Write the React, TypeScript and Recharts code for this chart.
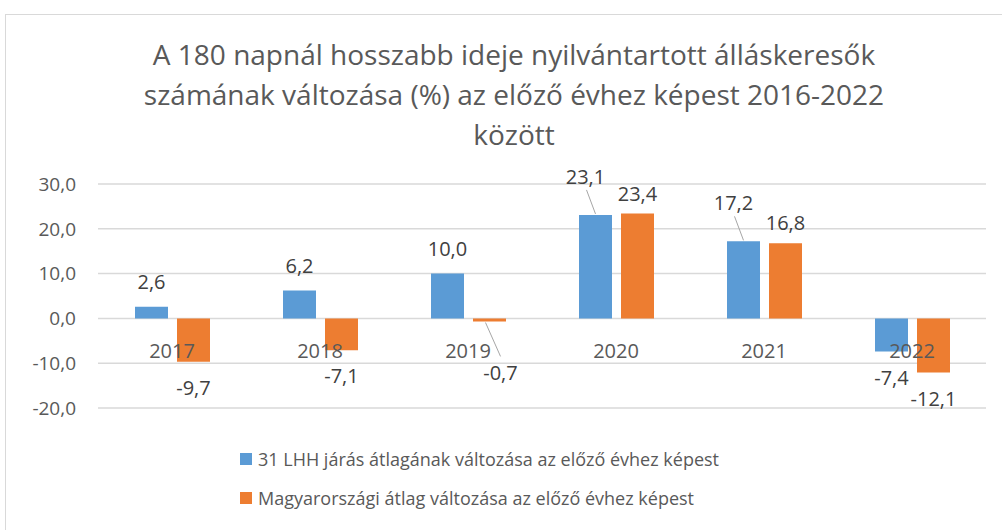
import React from "react";
import { BarChart, Bar, XAxis, YAxis, CartesianGrid, LabelList } from "recharts";

const years = ["2017", "2018", "2019", "2020", "2021", "2022"];
const lhhChange = [2.6, 6.2, 10.0, 23.1, 17.2, -7.4];
const nationalChange = [-9.7, -7.1, -0.7, 23.4, 16.8, -12.1];
const yTicks = [-20, -10, 0, 10, 20, 30];

const seriesNames = [
  "31 LHH járás átlagának változása az előző évhez képest",
  "Magyarországi átlag változása az előző évhez képest",
];
const titleLines = [
  "A 180 napnál hosszabb ideje nyilvántartott álláskeresők",
  "számának változása (%) az előző évhez képest 2016-2022",
  "között",
];

const data = years.map((y, i) => ({ year: y, lhh: lhhChange[i], hu: nationalChange[i] }));

const BLUE = "#5B9BD5";
const ORANGE = "#ED7D31";
const TEXT = "#595959";
const LABEL = "#404040";
const LEADER = "#a6a6a6";
const FONT = "'Open Sans', 'Noto Sans', sans-serif";

const W = 1002;
const H = 530;
const X_AXIS_H = 30;
const M = { top: 184, right: 16, bottom: 122 - X_AXIS_H, left: 8 };
const Y_MIN = -20;
const Y_MAX = 30;
const plotH = H - M.top - M.bottom - X_AXIS_H;
const zeroY = M.top + (plotH * Y_MAX) / (Y_MAX - Y_MIN);

const fmt = (v: number) => v.toFixed(1).replace(".", ",");

// value labels: above positive bars, below negative ones.
// when both bars of a year are positive the first series' label is lifted
// (with a leader line) so the two don't collide; short negative bars get
// pushed clear of the year label the same way.
const makeLabel = (first: boolean, other: number[]) => (props: any) => {
  const { x, y, width, height, value, index } = props;
  const v = Number(value);
  const cx = x + width / 2;
  const top = Math.min(y, y + height);
  const bottom = Math.max(y, y + height);
  if (v >= 0) {
    const lift = first && other[index] > 0;
    const ty = lift ? top - 31 : top - (first ? 18 : 13);
    const lx = lift ? cx - 10 : cx;
    return (
      <g>
        {lift && <line x1={cx} y1={top - 1} x2={lx + 1} y2={ty + 6} stroke={LEADER} strokeWidth={1} />}
        <text x={lx} y={ty} textAnchor="middle" fill={LABEL} fontSize={20} fontFamily={FONT}>
          {fmt(v)}
        </text>
      </g>
    );
  }
  const natural = bottom + 33;
  const ty = Math.max(natural, zeroY + 62);
  const pushed = ty > natural + 5;
  const lx = pushed ? cx + 11 : cx;
  return (
    <g>
      {pushed && <line x1={cx - 4} y1={bottom + 1} x2={lx} y2={ty - 24} stroke={LEADER} strokeWidth={1} />}
      <text x={lx} y={ty} textAnchor="middle" fill={LABEL} fontSize={20} fontFamily={FONT}>
        {fmt(v)}
      </text>
    </g>
  );
};

const LhhLabel = makeLabel(true, nationalChange);
const HuLabel = makeLabel(false, lhhChange);

// category labels sit just under the zero line, like Excel does
const YearTick = (props: any) => {
  const { x, payload } = props;
  return (
    <text x={x} y={zeroY + 40} textAnchor="middle" fill={TEXT} fontSize={20} fontFamily={FONT}>
      {payload.value}
    </text>
  );
};

const LegendBox = () => (
  <div style={{ position: "absolute", left: 240, top: 439, fontFamily: FONT, fontSize: 18, color: TEXT }}>
    {seriesNames.map((n, i) => (
      <div key={n} style={{ display: "flex", alignItems: "center", height: 39 }}>
        <span
          style={{
            display: "inline-block",
            width: 12,
            height: 12,
            background: i === 0 ? BLUE : ORANGE,
            marginRight: 6,
          }}
        />
        {n}
      </div>
    ))}
  </div>
);

export default function App() {
  return (
    <div style={{ position: "absolute", left: 0, top: 0, width: W, height: H, overflow: "hidden", background: "#fff" }}>
      <div
        style={{
          position: "absolute",
          left: 5,
          top: 14,
          width: W + 20,
          height: H,
          border: "1px solid #d9d9d9",
        }}
      />
      <div
        style={{
          position: "absolute",
          left: 0,
          top: 34,
          width: 1028,
          textAlign: "center",
          fontFamily: FONT,
          fontSize: 28,
          lineHeight: "40px",
          color: TEXT,
        }}
      >
        {titleLines.map((t) => (
          <div key={t}>{t}</div>
        ))}
      </div>
      <div style={{ position: "absolute", left: 0, top: 0 }}>
        <BarChart width={W} height={H} data={data} margin={M} barSize={33} barGap={9}>
          <CartesianGrid vertical={false} stroke="#d9d9d9" strokeWidth={1.5} />
          <XAxis
            dataKey="year"
            height={X_AXIS_H}
            axisLine={false}
            tickLine={false}
            tick={<YearTick />}
            interval={0}
          />
          <YAxis
            width={90}
            domain={[Y_MIN, Y_MAX]}
            ticks={yTicks}
            axisLine={false}
            tickLine={false}
            tickMargin={16}
            tickFormatter={fmt}
            tick={{ fill: TEXT, fontSize: 19, fontFamily: FONT }}
          />
          <Bar dataKey="lhh" fill={BLUE} isAnimationActive={false}>
            <LabelList dataKey="lhh" content={<LhhLabel />} />
          </Bar>
          <Bar dataKey="hu" fill={ORANGE} isAnimationActive={false}>
            <LabelList dataKey="hu" content={<HuLabel />} />
          </Bar>
        </BarChart>
      </div>
      <LegendBox />
    </div>
  );
}
